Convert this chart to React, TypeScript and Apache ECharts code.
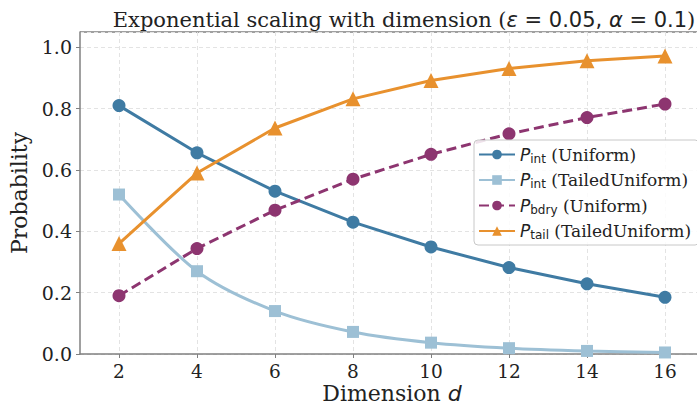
import React, { useEffect, useRef } from "react";
import * as echarts from "echarts";

const dims = [2, 4, 6, 8, 10, 12, 14, 16];
const pIntUniform = [0.81, 0.656, 0.531, 0.43, 0.349, 0.282, 0.229, 0.185];
const pIntTailed = [0.52, 0.27, 0.14, 0.072, 0.037, 0.019, 0.01, 0.005];
const pBdryUniform = [0.19, 0.344, 0.469, 0.57, 0.651, 0.718, 0.771, 0.815];
const pTailTailed = [0.36, 0.59, 0.737, 0.832, 0.892, 0.931, 0.956, 0.972];

const SERIF = "DejaVu Serif";
const SANS = "DejaVu Sans";

export default function App() {
  const ref = useRef<HTMLDivElement>(null);
  useEffect(() => {
    if (!ref.current) return;
    const chart = echarts.init(ref.current, null, { renderer: "svg" });
    const mk = (arr: number[]) => arr.map((v, i) => [dims[i], v]);
    const legendRich = {
      p: { fontFamily: SANS, fontStyle: "italic", fontSize: 17, color: "#222" },
      s: { fontFamily: SANS, fontSize: 12, color: "#222", padding: [8, 0, 0, 0] },
      t: { fontFamily: SERIF, fontSize: 17, color: "#222" },
    };
    const names: Record<string, string> = {
      a: "{p|P}{s|int}{t| (Uniform)}",
      b: "{p|P}{s|int}{t| (TailedUniform)}",
      c: "{p|P}{s|bdry}{t| (Uniform)}",
      d: "{p|P}{s|tail}{t| (TailedUniform)}",
    };
    chart.setOption({
      animation: false,
      title: {
        text: "{r|Exponential scaling with dimension (}{i|ε}{m| = 0.05, }{i|α}{m| = 0.1}{r|)}",
        left: 399,
        textAlign: "center",
        top: 4,
        textStyle: {
          fontWeight: "normal",
          rich: {
            r: { fontFamily: SERIF, fontSize: 21, fontWeight: "normal", color: "#222" },
            i: { fontFamily: SANS, fontStyle: "italic", fontWeight: "normal", fontSize: 21, color: "#222" },
            m: { fontFamily: SANS, fontSize: 21, fontWeight: "normal", color: "#222" },
          },
        },
      },
      grid: { left: 80, top: 32, bottom: 49, right: -7, outerBoundsMode: "none", containLabel: false },
      xAxis: {
        type: "value",
        min: 1,
        max: 17,
        name: "{r|Dimension }{i|d}",
        nameLocation: "middle",
        nameGap: 39,
        nameMoveOverlap: false,
        nameTextStyle: {
          verticalAlign: "middle",
          lineHeight: 20,
          rich: {
            r: { fontFamily: SERIF, fontSize: 22, lineHeight: 20, color: "#222" },
            i: { fontFamily: SANS, fontStyle: "italic", fontSize: 22, lineHeight: 20, color: "#222" },
          },
        },
        axisLine: { lineStyle: { color: "#808080", width: 1.5 } },
        axisTick: { show: true, length: 4, customValues: dims, lineStyle: { color: "#808080" } },
        axisLabel: {
          fontFamily: SERIF,
          fontSize: 18.5,
          lineHeight: 20,
          color: "#222",
          margin: 7,
          customValues: dims,
        },
        splitLine: { show: true, lineStyle: { color: "#e3e3e3", type: [4, 3], width: 1 } },
      },
      yAxis: {
        type: "value",
        min: 0,
        max: 1.05,
        interval: 0.2,
        name: "Probability",
        nameLocation: "middle",
        nameGap: 50,
        nameMoveOverlap: false,
        nameTextStyle: { fontFamily: SERIF, fontSize: 22, color: "#222" },
        axisLine: { show: true, lineStyle: { color: "#808080", width: 1.5 } },
        axisTick: { show: true, length: 4, lineStyle: { color: "#808080" } },
        axisLabel: {
          fontFamily: SERIF,
          fontSize: 19,
          color: "#222",
          margin: 8,
          formatter: (v: number) => v.toFixed(1),
          showMaxLabel: false,
        },
        splitLine: { show: true, lineStyle: { color: "#e3e3e3", type: [4, 3], width: 1 } },
      },
      graphic: [
        {
          type: "line",
          shape: { x1: 80, y1: 32, x2: 697, y2: 32 },
          style: { stroke: "#808080", lineWidth: 1.5 },
        },
      ],
      legend: {
        orient: "vertical",
        left: 474,
        top: 140,
        padding: [5, 8, 4, 4],
        itemWidth: 36,
        itemHeight: 12,
        itemGap: 6,
        backgroundColor: "rgba(255,255,255,0.85)",
        borderColor: "#c8c8c8",
        borderWidth: 1,
        borderRadius: 4,
        formatter: (n: string) => names[n],
        textStyle: { rich: legendRich, lineHeight: 19 },
        data: ["a", "b", "c", "d"],
      },
      series: [
        {
          name: "a",
          type: "line",
          data: mk(pIntUniform),
          symbol: "circle",
          symbolSize: 13,
          lineStyle: { color: "#3f7ba3", width: 3 },
          itemStyle: { color: "#3f7ba3" },
        },
        {
          name: "b",
          type: "line",
          data: mk(pIntTailed),
          symbol: "rect",
          symbolSize: 12,
          smooth: 0.3,
          lineStyle: { color: "#9dc0d5", width: 3 },
          itemStyle: { color: "#9dc0d5" },
        },
        {
          name: "c",
          type: "line",
          data: mk(pBdryUniform),
          symbol: "circle",
          symbolSize: 13,
          lineStyle: { color: "#8d3570", width: 3, type: [10, 5] },
          itemStyle: { color: "#8d3570" },
        },
        {
          name: "d",
          type: "line",
          data: mk(pTailTailed),
          symbol: "triangle",
          symbolSize: 15,
          lineStyle: { color: "#e8912e", width: 3 },
          itemStyle: { color: "#e8912e" },
        },
      ],
    });
    return () => chart.dispose();
  }, []);
  return <div ref={ref} style={{ width: 697, height: 403, position: "absolute", left: 0, top: 0 }} />;
}
